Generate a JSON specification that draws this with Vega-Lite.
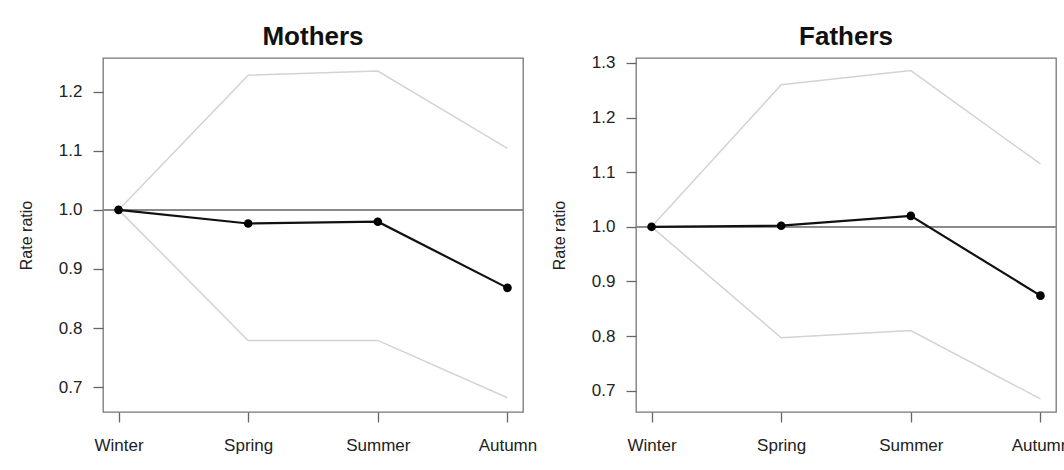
{
  "$schema": "https://vega.github.io/schema/vega-lite/v6.json",
  "background": "white",
  "padding": {"left": 17, "top": 23, "right": 0, "bottom": 0},
  "spacing": 12,
  "datasets": {
    "rr": [
      {"panel": "Mothers", "season": "Winter", "rr": 1.0, "lo": 1.0, "hi": 1.0},
      {"panel": "Mothers", "season": "Spring", "rr": 0.977, "lo": 0.779, "hi": 1.228},
      {"panel": "Mothers", "season": "Summer", "rr": 0.980, "lo": 0.779, "hi": 1.235},
      {"panel": "Mothers", "season": "Autumn", "rr": 0.868, "lo": 0.682, "hi": 1.104},
      {"panel": "Fathers", "season": "Winter", "rr": 1.0, "lo": 1.0, "hi": 1.0},
      {"panel": "Fathers", "season": "Spring", "rr": 1.002, "lo": 0.797, "hi": 1.260},
      {"panel": "Fathers", "season": "Summer", "rr": 1.020, "lo": 0.810, "hi": 1.286},
      {"panel": "Fathers", "season": "Autumn", "rr": 0.874, "lo": 0.685, "hi": 1.115}
    ]
  },
  "config": {
    "font": "Liberation Sans",
    "view": {"stroke": "#777777", "strokeWidth": 1.3},
    "axis": {
      "domain": false,
      "grid": false,
      "tickColor": "#666666",
      "tickSize": 10,
      "tickWidth": 1.3,
      "labelFont": "Liberation Sans",
      "labelFontSize": 17,
      "labelColor": "#222222",
      "titleFont": "Liberation Sans",
      "titleFontSize": 16,
      "titleFontWeight": "normal",
      "titleColor": "#222222"
    },
    "title": {"font": "Liberation Sans", "fontSize": 26, "fontWeight": "bold", "color": "#111111"}
  },
  "hconcat": [
    {
      "title": {"text": "Mothers", "offset": 8},
      "width": 420,
      "height": 354,
      "data": {"name": "rr"},
      "transform": [{"filter": "datum.panel === 'Mothers'"}],
      "encoding": {
        "x": {"field": "season", "type": "ordinal", "sort": ["Winter", "Spring", "Summer", "Autumn"],
              "scale": {"type": "point", "padding": 0.12},
              "axis": {"title": null, "labelAngle": 0, "labelPadding": 15}}
      },
      "layer": [
        {"mark": {"type": "line", "color": "#d3d3d3", "strokeWidth": 1.5},
         "encoding": {"y": {"field": "hi", "type": "quantitative",
           "scale": {"domain": [0.6578, 1.2572], "nice": false, "zero": false},
           "axis": {"title": "Rate ratio", "values": [0.7, 0.8, 0.9, 1.0, 1.1, 1.2], "format": ".1f", "labelPadding": 11, "titlePadding": 24}}}},
        {"mark": {"type": "line", "color": "#d3d3d3", "strokeWidth": 1.5},
         "encoding": {"y": {"field": "lo", "type": "quantitative"}}},
        {"mark": {"type": "rule", "color": "#888888", "strokeWidth": 1.5},
         "encoding": {"y": {"datum": 1.0}, "x": {"value": 0}, "x2": {"value": 420}}},
        {"mark": {"type": "line", "color": "#111111", "strokeWidth": 2.2},
         "encoding": {"y": {"field": "rr", "type": "quantitative"}}},
        {"mark": {"type": "point", "filled": true, "color": "#000000", "size": 75, "opacity": 1},
         "encoding": {"y": {"field": "rr", "type": "quantitative"}}}
      ]
    },
    {
      "title": {"text": "Fathers", "offset": 4},
      "width": 420,
      "height": 354,
      "data": {"name": "rr"},
      "transform": [{"filter": "datum.panel === 'Fathers'"}],
      "encoding": {
        "x": {"field": "season", "type": "ordinal", "sort": ["Winter", "Spring", "Summer", "Autumn"],
              "scale": {"type": "point", "padding": 0.12},
              "axis": {"title": null, "labelAngle": 0, "labelPadding": 15}}
      },
      "layer": [
        {"mark": {"type": "line", "color": "#d3d3d3", "strokeWidth": 1.5},
         "encoding": {"y": {"field": "hi", "type": "quantitative",
           "scale": {"domain": [0.661, 1.309], "nice": false, "zero": false},
           "axis": {"title": "Rate ratio", "values": [0.7, 0.8, 0.9, 1.0, 1.1, 1.2, 1.3], "format": ".1f", "labelPadding": 11, "titlePadding": 24}}}},
        {"mark": {"type": "line", "color": "#d3d3d3", "strokeWidth": 1.5},
         "encoding": {"y": {"field": "lo", "type": "quantitative"}}},
        {"mark": {"type": "rule", "color": "#888888", "strokeWidth": 1.5},
         "encoding": {"y": {"datum": 1.0}, "x": {"value": 0}, "x2": {"value": 420}}},
        {"mark": {"type": "line", "color": "#111111", "strokeWidth": 2.2},
         "encoding": {"y": {"field": "rr", "type": "quantitative"}}},
        {"mark": {"type": "point", "filled": true, "color": "#000000", "size": 75, "opacity": 1},
         "encoding": {"y": {"field": "rr", "type": "quantitative"}}}
      ]
    }
  ]
}
